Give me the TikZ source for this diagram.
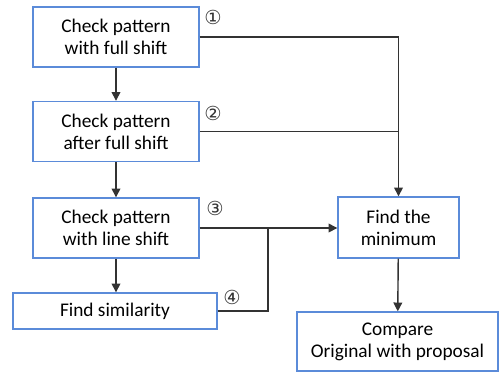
\documentclass[tikz,border=0pt]{standalone}
\usepackage{fontspec}
\setmainfont{Carlito}
\newfontfamily\symfont{DejaVu Sans}
\usetikzlibrary{arrows.meta}
\definecolor{boxblue}{HTML}{5B8BD9}
\definecolor{linegray}{HTML}{333333}
\tikzset{
  stepbox/.style={draw=boxblue,line width=0.8pt,fill=white,align=center,font=\fontsize{11}{12.5}\selectfont,inner sep=0pt},
  flow/.style={draw=linegray,line width=0.8pt},
  num/.style={font=\symfont\fontsize{11}{12}\selectfont,text=linegray,inner sep=0pt}
}
\begin{document}
\begin{tikzpicture}[>={Triangle[length=5pt,width=5pt]}]
\useasboundingbox (0,0) rectangle (10,-7.44);
\node[stepbox,minimum width=3.32cm,minimum height=1.2cm] (full) at (2.32,-0.74) {Check pattern\\with full shift};
\node[stepbox,minimum width=3.32cm,minimum height=1.2cm] (after) at (2.32,-2.63) {Check pattern\\after full shift};
\node[stepbox,minimum width=3.32cm,minimum height=1.2cm] (line) at (2.32,-4.56) {Check pattern\\with line shift};
\node[stepbox,minimum width=4.08cm,minimum height=0.72cm] (sim) at (2.30,-6.22) {Find similarity};
\node[stepbox,minimum width=2.42cm,minimum height=1.22cm] (min) at (7.97,-4.55) {Find the\\minimum};
\node[stepbox,minimum width=4.02cm,minimum height=1.18cm] (comp) at (7.95,-6.83) {Compare\\Original with proposal};
\node[num] (n1) at (4.26,-0.34) {①};
\node[num] (n2) at (4.26,-2.26) {②};
\node[num] (n3) at (4.30,-4.16) {③};
\node[num] (n4) at (4.64,-5.94) {④};
\coordinate (join) at (5.36,-4.56);
\draw[flow,->] (full) -- (after);
\draw[flow,->] (after) -- (line);
\draw[flow,->] (line.south) -- (line.south |- sim.north);
\draw[flow,->] (full.east) -| (min.north);
\draw[flow] (after.east) -- (after.east -| min.north);
\draw[flow,->] (line.east) -- (line.east -| min.west);
\draw[flow] (sim.east) -| (join);
\draw[flow,->] (min) -- (comp);
\end{tikzpicture}
\end{document}
